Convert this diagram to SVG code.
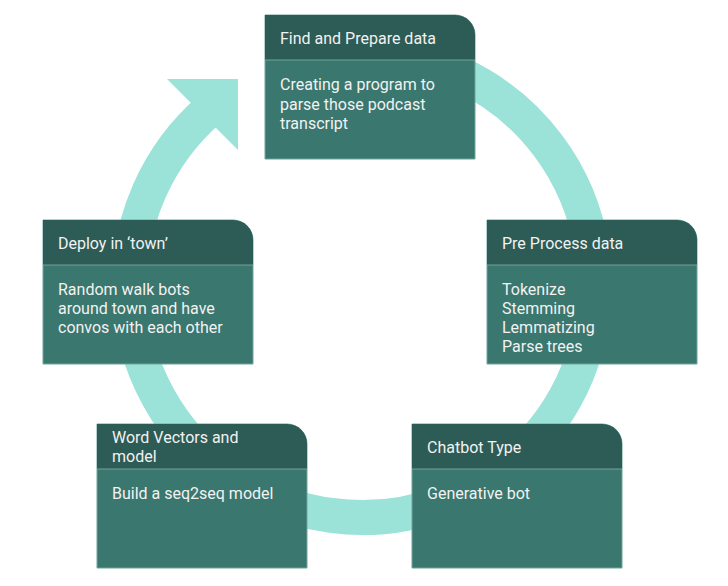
<svg xmlns="http://www.w3.org/2000/svg" width="728" height="586" viewBox="0 0 728 586">
  <style>
    .body { fill: #3a776e; stroke: #6fa59c; stroke-width: 1; }
    .hdr { fill: #2d5b55; }
    .div { stroke: #6fa59c; stroke-width: 1; }
    .t { font-family: Roboto, "Liberation Sans", sans-serif; font-size: 16px; fill: #f2f2f2; }
    .ring { fill: none; stroke: #9be2d9; stroke-width: 35; }
  </style>
  <defs>
    <path id="boxShape" d="M0,0 H190 A20,20 0 0 1 210,20 V144 H0 Z"/>
    <path id="hdrShape" d="M0,0 H190 A20,20 0 0 1 210,20 V45 H0 Z"/>
  </defs>
  <rect width="728" height="586" fill="#ffffff"/>
  <g id="connectors">
    <path class="ring" d="M362,52.5 A232.5,232.5 0 1 1 209.5,109.5"/>
    <polygon points="167,79 238,79 238,150" fill="#9be2d9"/>
  </g>
  <g id="node-find" transform="translate(265,15)">
    <use href="#boxShape" class="body"/>
    <use href="#hdrShape" class="hdr"/>
    <line class="div" x1="0" y1="45" x2="210" y2="45"/>
    <text class="t" x="15" y="29">Find and Prepare data</text>
    <text class="t" x="15" y="75">Creating a program to</text>
    <text class="t" x="15" y="94.5">parse those podcast</text>
    <text class="t" x="15" y="114">transcript</text>
  </g>
  <g id="node-deploy" transform="translate(43,220)">
    <use href="#boxShape" class="body"/>
    <use href="#hdrShape" class="hdr"/>
    <line class="div" x1="0" y1="45" x2="210" y2="45"/>
    <text class="t" x="15" y="28.5">Deploy in ‘town’</text>
    <text class="t" x="15" y="74.5">Random walk bots</text>
    <text class="t" x="15" y="93.5">around town and have</text>
    <text class="t" x="15" y="113">convos with each other</text>
  </g>
  <g id="node-preprocess" transform="translate(487,220)">
    <use href="#boxShape" class="body"/>
    <use href="#hdrShape" class="hdr"/>
    <line class="div" x1="0" y1="45" x2="210" y2="45"/>
    <text class="t" x="15" y="28.5">Pre Process data</text>
    <text class="t" x="15" y="75">Tokenize</text>
    <text class="t" x="15" y="94">Stemming</text>
    <text class="t" x="15" y="113">Lemmatizing</text>
    <text class="t" x="15" y="132">Parse trees</text>
  </g>
  <g id="node-wordvectors" transform="translate(97,424)">
    <use href="#boxShape" class="body"/>
    <use href="#hdrShape" class="hdr"/>
    <line class="div" x1="0" y1="45" x2="210" y2="45"/>
    <text class="t" x="15" y="19">Word Vectors and</text>
    <text class="t" x="15" y="38">model</text>
    <text class="t" x="15" y="75">Build a seq2seq model</text>
  </g>
  <g id="node-chatbot" transform="translate(412,424)">
    <use href="#boxShape" class="body"/>
    <use href="#hdrShape" class="hdr"/>
    <line class="div" x1="0" y1="45" x2="210" y2="45"/>
    <text class="t" x="15" y="29">Chatbot Type</text>
    <text class="t" x="15" y="74.5">Generative bot</text>
  </g>
</svg>
